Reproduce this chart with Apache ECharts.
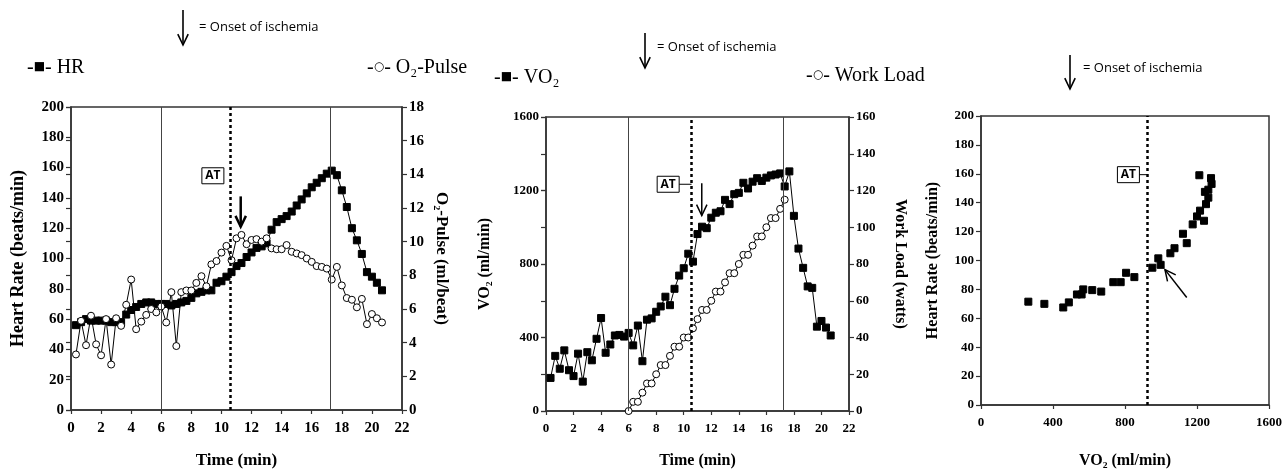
<!DOCTYPE html>
<html>
<head>
<meta charset="utf-8">
<script src="https://cdn.jsdelivr.net/npm/echarts@6/dist/echarts.min.js"></script>
<style>
html,body{margin:0;padding:0;background:#fff;}
#main{width:1285px;height:474px;}
</style>
</head>
<body>
<div id="main"></div>
<script>
// ---------- data ----------
const timeMin = [0.33,0.67,1.0,1.33,1.67,2.0,2.33,2.67,3.0,3.33,3.67,4.0,4.33,4.67,5.0,5.33,5.67,6.0,6.33,6.67,7.0,7.33,7.67,8.0,8.33,8.67,9.0,9.33,9.67,10.0,10.33,10.67,11.0,11.33,11.67,12.0,12.33,12.67,13.0,13.33,13.67,14.0,14.33,14.67,15.0,15.33,15.67,16.0,16.33,16.67,17.0,17.33,17.67,18.0,18.33,18.67,19.0,19.33,19.67,20.0,20.33,20.67];
const heartRate = [56,58,60,59,59,59,59,58,58,58,63,66,68,70,71,71,70,70,70,69,70,71,72,74,77,78,79,79,84,85,88,91,95,97,101,104,107,108,110,119,124,126,128,131,135,139,143,147,150,153,156,158,155,145,134,120,112,103,91,88,84,79];
const o2Pulse = [3.3,5.3,3.85,5.6,3.9,3.25,5.4,2.7,5.45,5.0,6.25,7.75,4.8,5.25,5.65,6.0,5.8,6.15,5.2,7.0,3.8,7.0,7.1,7.1,7.55,7.95,7.35,8.65,8.85,9.35,9.75,8.9,10.2,10.4,9.85,10.1,10.15,10.0,10.2,9.6,9.55,9.55,9.8,9.4,9.3,9.2,9.0,8.8,8.55,8.5,8.4,7.75,8.5,7.4,6.65,6.55,6.1,6.6,5.1,5.7,5.45,5.2];
const vo2 = [180,300,230,330,222,190,312,160,320,276,393,506,317,362,411,414,405,425,357,465,271,497,504,540,569,622,576,665,737,777,856,813,963,1003,995,1052,1079,1087,1149,1126,1180,1187,1242,1211,1248,1267,1252,1270,1282,1287,1293,1222,1304,1062,884,779,678,670,459,490,454,411];
const workTime = [6.0,6.33,6.67,7.0,7.33,7.67,8.0,8.33,8.67,9.0,9.33,9.67,10.0,10.33,10.67,11.0,11.33,11.67,12.0,12.33,12.67,13.0,13.33,13.67,14.0,14.33,14.67,15.0,15.33,15.67,16.0,16.33,16.67,17.0,17.33];
const workLoad = [0,5,5,10,15,15,20,25,25,30,35,35,40,40,45,50,55,55,60,65,65,70,75,75,80,85,85,90,95,95,100,105,105,110,115];
const scatterVO2 = [263,352,457,488,533,559,568,618,668,735,776,806,852,952,985,998,1052,1075,1122,1143,1176,1200,1217,1239,1250,1244,1263,1263,1213,1278,1281];
const scatterHR = [71.5,70,67.5,71,76.5,76.5,80,79.5,78.5,85,85,91.5,88.5,95,101.5,97,105,108.5,118.5,112,125,130.5,134.5,127.5,139,147.5,149,143.5,159,157,153];
// event markers
const exerciseStart = 6.0, exerciseEnd = 17.25, atTime = 10.57, atVO2 = 925;

// ---------- chart ----------
const zip = (a, b) => a.map((v, i) => [v, b[i]]);
const chart = echarts.init(document.getElementById('main'), null, {renderer:'canvas'});
const SERIF = '"Liberation Serif","Times New Roman",serif';
const SANS = '"Open Sans","Noto Sans",sans-serif';
const AX = '#333';
const plain = v => String(v);

function xAxisCfg(grid, min, max, interval, fs, gap){
  return {type:'value', gridIndex:grid, min, max, interval,
    name: grid===2 ? 'VO₂ (ml/min)' : 'Time (min)', nameLocation:'middle', nameGap:gap,
    nameTextStyle:{fontFamily:SERIF, fontWeight:'bold', fontSize:grid===0 ? fs+2 : fs+3, color:'#000'},
    axisLine:{onZero:false, lineStyle:{color:AX, width:1.5}},
    axisTick:{show:true, length:4, lineStyle:{color:AX, width:1.2}},
    axisLabel:{fontFamily:SERIF, fontWeight:'bold', fontSize:fs, color:'#000', margin:11, formatter:plain},
    splitLine:{show:false}};
}
function yAxisCfg(grid, pos, min, max, interval, name, rot, gap, fs, nfs){
  return {type:'value', gridIndex:grid, position:pos, min, max, interval,
    name, nameLocation:'middle', nameRotate:rot, nameGap:gap,
    nameTextStyle:{fontFamily:SERIF, fontWeight:'bold', fontSize:nfs, color:'#000'},
    axisLine:{show:true, onZero:false, lineStyle:{color:AX, width:1.5}},
    axisTick:{show:true, length:5, lineStyle:{color:AX, width:1.2}},
    axisLabel:{fontFamily:SERIF, fontWeight:'bold', fontSize:fs, color:'#000', margin:7, formatter:plain},
    splitLine:{show:false}};
}
function innerTicks(grid, pos, min, max, interval){
  return {type:'value', gridIndex:grid, position:pos, min, max, interval,
    axisLine:{show:false}, axisLabel:{show:false}, splitLine:{show:false},
    axisTick:{show:true, inside:true, length:5, lineStyle:{color:AX, width:1.2}}};
}
function vLines(){
  return {symbol:'none', silent:true, label:{show:false}, animation:false,
    data:[
      {xAxis:exerciseStart, lineStyle:{type:'solid', color:'#444', width:1}},
      {xAxis:exerciseEnd, lineStyle:{type:'solid', color:'#444', width:1}},
      {xAxis:atTime, lineStyle:{type:[3,3], color:'#000', width:2.5}}
    ]};
}
const squareStyle = {color:'#000', borderColor:'#000', opacity:1};
const circleStyle = {color:'#fff', borderColor:'#000', borderWidth:1, opacity:1};

chart.setOption({
  animation:false,
  grid:[
    {left:71, right:883, top:107, bottom:62, show:true, borderColor:AX, borderWidth:1.5},
    {left:546, right:436, top:117, bottom:61, show:true, borderColor:AX, borderWidth:1.5},
    {left:981, right:16, top:116, bottom:65, show:true, borderColor:AX, borderWidth:1.5}
  ],
  xAxis:[
    xAxisCfg(0, 0, 22, 2, 15, 42),
    xAxisCfg(1, 0, 22, 2, 13, 42),
    xAxisCfg(2, 0, 1600, 400, 13, 48)
  ],
  yAxis:[
    yAxisCfg(0, 'left', 0, 200, 20, 'Heart Rate (beats/min)', 90, 44, 15, 18),
    yAxisCfg(0, 'right', 0, 18, 2, 'O₂-Pulse (ml/beat)', -90, 31, 15, 17),
    yAxisCfg(1, 'left', 0, 1600, 400, 'VO₂ (ml/min)', 90, 53, 13, 16),
    yAxisCfg(1, 'right', 0, 160, 20, 'Work Load (watts)', -90, 43, 13, 16),
    yAxisCfg(2, 'left', 0, 200, 20, 'Heart Rate (beats/min)', 90, 40, 13, 16),
    innerTicks(0, 'right', 0, 18, 2),
    innerTicks(1, 'right', 0, 160, 20)
  ],
  series:[
    {name:'HR', type:'line', xAxisIndex:0, yAxisIndex:0, data:zip(timeMin, heartRate),
     symbol:'rect', symbolSize:7, itemStyle:squareStyle, lineStyle:{color:'#000', width:1}, z:3,
     markLine:vLines()},
    {name:'O2-Pulse', type:'line', xAxisIndex:0, yAxisIndex:1, data:zip(timeMin, o2Pulse),
     symbol:'circle', symbolSize:7, itemStyle:circleStyle, lineStyle:{color:'#000', width:1}, z:4},
    {name:'VO2', type:'line', xAxisIndex:1, yAxisIndex:2, data:zip(timeMin, vo2),
     symbol:'rect', symbolSize:7, itemStyle:squareStyle, lineStyle:{color:'#000', width:1}, z:3,
     markLine:vLines()},
    {name:'Work Load', type:'line', xAxisIndex:1, yAxisIndex:3, data:zip(workTime, workLoad),
     symbol:'circle', symbolSize:7, itemStyle:circleStyle, lineStyle:{color:'#000', width:1}, z:4},
    {name:'HR vs VO2', type:'scatter', xAxisIndex:2, yAxisIndex:4, data:zip(scatterVO2, scatterHR),
     symbol:'rect', symbolSize:7, itemStyle:squareStyle, z:3,
     markLine:{symbol:'none', silent:true, label:{show:false},
       data:[{xAxis:atVO2, lineStyle:{type:[3,3], color:'#000', width:2.5}}]}}
  ]
});

// ---------- annotations ----------
function arrow(x1, y1, x2, y2, w, head){
  const a = Math.atan2(y2 - y1, x2 - x1), s = Math.PI / 7;
  const h1 = [x2 - head*Math.cos(a - s), y2 - head*Math.sin(a - s)];
  const h2 = [x2 - head*Math.cos(a + s), y2 - head*Math.sin(a + s)];
  return [
    {type:'polyline', shape:{points:[[x1,y1],[x2,y2]]}, style:{stroke:'#000', lineWidth:w, fill:null}, z:100},
    {type:'polyline', shape:{points:[h1,[x2,y2],h2]}, style:{stroke:'#000', lineWidth:w, fill:null}, z:100}
  ];
}
function txt(x, y, text, font, extra){
  return {type:'text', z:100, style:Object.assign({x, y, text, font, fill:'#000', verticalAlign:'middle'}, extra||{})};
}
function richLegend(x, y, marker, label){
  return {type:'text', z:100, style:{x, y, text:'-{m|' + marker + '}- ' + label, fill:'#000', verticalAlign:'middle',
    font:'20px ' + SERIF, rich:{m:{fontSize:12, fontFamily:'DejaVu Sans', padding:[0,0,2,0]}}}};
}
function atBox(cx, cy, lineTo){
  const w = 22, h = 16;
  const els = [
    {type:'rect', shape:{x:cx - w/2, y:cy - h/2, width:w, height:h}, style:{fill:'#fff', stroke:'#000', lineWidth:1}, z:100},
    txt(cx, cy, 'AT', 'bold 12px ' + SANS, {textAlign:'center'})
  ];
  if (lineTo !== undefined) {
    els.push({type:'line', shape:{x1:cx + w/2, y1:cy, x2:lineTo, y2:cy}, style:{stroke:'#000', lineWidth:1}, z:100});
  }
  return els;
}
const p0 = (x, y) => chart.convertToPixel({seriesIndex:0}, [x, y]);
const p1 = (x, y) => chart.convertToPixel({seriesIndex:2}, [x, y]);
const p2 = (x, y) => chart.convertToPixel({seriesIndex:4}, [x, y]);

let g = [];
// top legends
g = g.concat(arrow(183, 10, 183, 45, 1.6, 12), [txt(199, 27, '= Onset of ischemia', '13px ' + SANS)]);
g = g.concat(arrow(645, 33, 645, 68, 1.6, 12), [txt(657, 47, '= Onset of ischemia', '13px ' + SANS)]);
g = g.concat(arrow(1070, 55, 1070, 89, 1.6, 12), [txt(1083, 68, '= Onset of ischemia', '13px ' + SANS)]);
g.push(richLegend(27, 68, '■', 'HR'));
g.push(richLegend(367, 68, '○', 'O₂-Pulse'));
g.push(richLegend(494, 78, '■', 'VO₂'));
g.push(richLegend(806, 76, '○', 'Work Load'));
// panel 1
let a = p0(11.28, 141), b = p0(11.28, 121);
g = g.concat(arrow(a[0], a[1], b[0], b[1], 2.5, 12));
let c = p0(9.43, 154.6);
g = g.concat(atBox(c[0], c[1]));
// panel 2
a = p1(11.31, 1240); b = p1(11.31, 1064);
g = g.concat(arrow(a[0], a[1], b[0], b[1], 1.5, 12));
c = p1(8.87, 1234);
g = g.concat(atBox(c[0], c[1], p1(atTime, 0)[0]));
// panel 3
a = p2(1143, 74.4); b = p2(1022, 93.7);
g = g.concat(arrow(a[0], a[1], b[0], b[1], 1.5, 12));
c = p2(819, 159.4);
g = g.concat(atBox(c[0], c[1], p2(atVO2, 0)[0]));

chart.setOption({graphic: g});
</script>
</body>
</html>
